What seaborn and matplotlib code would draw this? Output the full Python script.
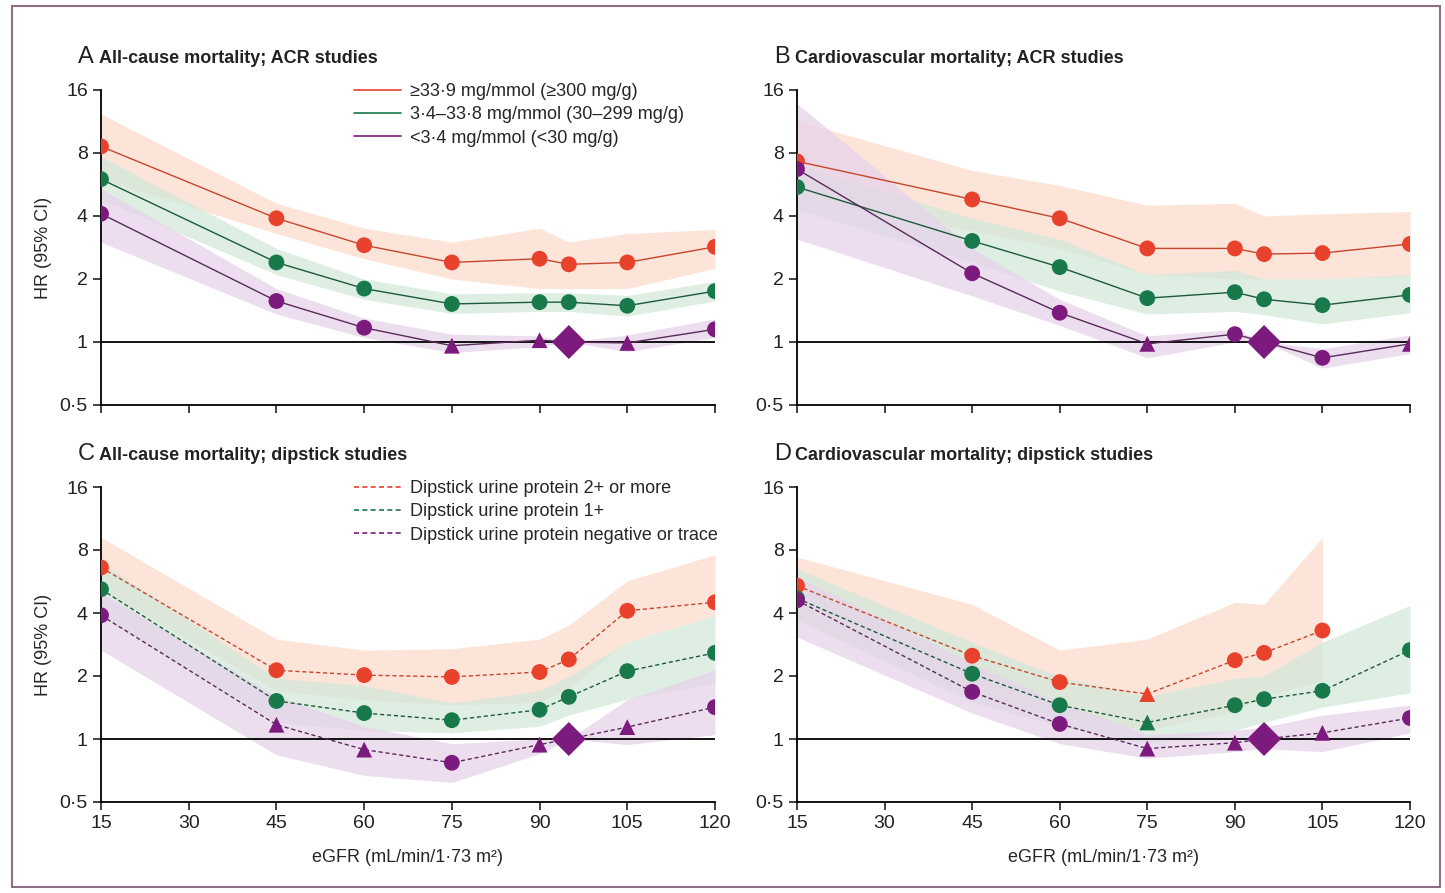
import numpy as np
import pandas as pd
import matplotlib
matplotlib.use("Agg")
import matplotlib.pyplot as plt
from matplotlib.lines import Line2D
from matplotlib.patches import Rectangle
import seaborn as sns

# eGFR categories (reference point is 95)
egfr = [15, 45, 60, 75, 90, 95, 105, 120]
ref_idx = 5

# panel A - all-cause mortality, ACR studies
a_high = [8.6, 3.9, 2.9, 2.4, 2.5, 2.35, 2.4, 2.85]
a_high_lo = [6.0, 3.3, 2.5, 2.0, 1.8, 1.8, 1.8, 2.25]
a_high_hi = [12.3, 4.6, 3.5, 3.0, 3.5, 3.0, 3.3, 3.45]
a_mid = [6.0, 2.4, 1.8, 1.52, 1.55, 1.55, 1.49, 1.75]
a_mid_lo = [4.8, 2.1, 1.6, 1.37, 1.4, 1.4, 1.33, 1.57]
a_mid_hi = [7.7, 2.8, 2.0, 1.7, 1.72, 1.72, 1.67, 1.95]
a_low = [4.1, 1.57, 1.17, 0.96, 1.02, 1.0, 0.99, 1.15]
a_low_lo = [3.0, 1.36, 1.05, 0.89, 0.95, 1.0, 0.9, 1.05]
a_low_hi = [5.4, 1.8, 1.3, 1.09, 1.07, 1.0, 1.08, 1.29]
a_ns = {"high": [], "mid": [], "low": [3, 4, 6]}

# panel B - cardiovascular mortality, ACR studies
b_high = [7.3, 4.8, 3.9, 2.8, 2.8, 2.63, 2.66, 2.94]
b_high_lo = [5.0, 3.4, 2.8, 2.1, 2.0, 2.0, 2.0, 2.07]
b_high_hi = [11.4, 6.6, 5.6, 4.5, 4.6, 4.0, 4.1, 4.2]
b_mid = [5.5, 3.04, 2.28, 1.62, 1.73, 1.6, 1.5, 1.68]
b_mid_lo = [4.3, 2.4, 1.75, 1.36, 1.4, 1.35, 1.22, 1.38]
b_mid_hi = [7.0, 3.9, 3.1, 2.1, 2.2, 2.0, 2.0, 2.1]
b_low = [6.7, 2.13, 1.38, 0.98, 1.09, 1.0, 0.84, 0.98]
b_low_lo = [3.1, 1.66, 1.2, 0.84, 1.0, 1.0, 0.75, 0.88]
b_low_hi = [13.8, 2.8, 1.6, 1.07, 1.15, 1.0, 0.93, 1.08]
b_ns = {"high": [], "mid": [], "low": [3, 7]}

# panel C - all-cause mortality, dipstick studies
c_high = [6.6, 2.13, 2.02, 1.98, 2.09, 2.4, 4.1, 4.5]
c_high_lo = [5.2, 1.7, 1.54, 1.45, 1.5, 1.75, 2.9, 3.9]
c_high_hi = [9.2, 3.0, 2.66, 2.7, 3.0, 3.5, 5.7, 7.6]
c_mid = [5.2, 1.52, 1.33, 1.23, 1.38, 1.59, 2.11, 2.58]
c_mid_lo = [3.9, 1.2, 1.1, 1.07, 1.15, 1.3, 1.55, 1.85]
c_mid_hi = [7.0, 1.95, 1.8, 1.49, 1.7, 2.0, 2.9, 3.9]
c_low = [3.9, 1.17, 0.89, 0.77, 0.94, 1.0, 1.14, 1.42]
c_low_lo = [2.66, 0.84, 0.67, 0.62, 0.85, 1.0, 0.94, 1.05]
c_low_hi = [5.0, 1.6, 1.15, 0.95, 1.0, 1.0, 1.54, 2.14]
c_ns = {"high": [], "mid": [], "low": [1, 2, 4, 6]}

# panel D - cardiovascular mortality, dipstick studies (no 2+ estimate at 120)
d_high = [5.4, 2.5, 1.87, 1.64, 2.38, 2.58, 3.3, np.nan]
d_high_lo = [3.8, 1.6, 1.3, 1.1, 1.35, 1.6, 1.9, np.nan]
d_high_hi = [7.4, 4.4, 2.66, 3.0, 4.5, 4.4, 9.2, np.nan]
d_mid = [4.7, 2.05, 1.45, 1.2, 1.45, 1.55, 1.7, 2.66]
d_mid_lo = [3.7, 1.5, 1.15, 0.95, 1.1, 1.2, 1.42, 1.66]
d_mid_hi = [6.5, 2.9, 1.98, 1.6, 1.95, 2.0, 2.9, 4.35]
d_low = [4.6, 1.68, 1.18, 0.9, 0.96, 1.0, 1.07, 1.26]
d_low_lo = [3.07, 1.33, 0.95, 0.81, 0.87, 0.9, 0.87, 1.07]
d_low_hi = [6.0, 2.3, 1.5, 1.05, 1.1, 1.14, 1.3, 1.45]
d_ns = {"high": [3], "mid": [3], "low": [3, 4, 6]}

acr_labels = ["\u226533\u00b79 mg/mmol (\u2265300 mg/g)",
              "3\u00b74\u201333\u00b78 mg/mmol (30\u2013299 mg/g)",
              "<3\u00b74 mg/mmol (<30 mg/g)"]
dip_labels = ["Dipstick urine protein 2+ or more",
              "Dipstick urine protein 1+",
              "Dipstick urine protein negative or trace"]

panel_titles = [("A", "All-cause mortality; ACR studies"),
                ("B", "Cardiovascular mortality; ACR studies"),
                ("C", "All-cause mortality; dipstick studies"),
                ("D", "Cardiovascular mortality; dipstick studies")]

yticks = [0.5, 1, 2, 4, 8, 16]
ytick_labels = ["0\u00b75", "1", "2", "4", "8", "16"]
xticks = [15, 30, 45, 60, 75, 90, 105, 120]

sns.set_style("ticks")
plt.rcParams["font.family"] = ["Liberation Sans", "DejaVu Sans"]

colors = {"high": "#e8412c", "mid": "#18794a", "low": "#7d1a7d"}
line_colors = {"high": "#c8452f", "mid": "#1d5a3a", "low": "#5a2a5a"}
band_colors = {"high": "#fcdccb", "mid": "#d3e9da", "low": "#e6d3ea"}

panels = [
    dict(high=(a_high, a_high_lo, a_high_hi), mid=(a_mid, a_mid_lo, a_mid_hi),
         low=(a_low, a_low_lo, a_low_hi), ns=a_ns, dashed=False),
    dict(high=(b_high, b_high_lo, b_high_hi), mid=(b_mid, b_mid_lo, b_mid_hi),
         low=(b_low, b_low_lo, b_low_hi), ns=b_ns, dashed=False),
    dict(high=(c_high, c_high_lo, c_high_hi), mid=(c_mid, c_mid_lo, c_mid_hi),
         low=(c_low, c_low_lo, c_low_hi), ns=c_ns, dashed=True),
    dict(high=(d_high, d_high_lo, d_high_hi), mid=(d_mid, d_mid_lo, d_mid_hi),
         low=(d_low, d_low_lo, d_low_hi), ns=d_ns, dashed=True),
]

W, H = 1445, 893
fig = plt.figure(figsize=(W / 100, H / 100), dpi=100)

# axes boxes in pixels: left, right, top(y=16), bottom(y=0.5)
boxes = [(101, 715, 90, 405), (797, 1410, 90, 405),
         (101, 715, 487, 802), (797, 1410, 487, 802)]

for i, (pan, box) in enumerate(zip(panels, boxes)):
    l, r, t, b = box
    ax = fig.add_axes([l / W, 1 - b / H, (r - l) / W, (b - t) / H])
    ax.set_yscale("log", base=2)

    # confidence bands
    for key in ["high", "mid", "low"]:
        est, lo, hi = pan[key]
        ax.fill_between(egfr, lo, hi, color=band_colors[key], alpha=0.75,
                        linewidth=0, zorder=1)

    ax.axhline(1, color="black", lw=1.3, zorder=2)

    ls = (0, (3, 2)) if pan["dashed"] else "-"
    for key in ["high", "mid", "low"]:
        est = pan[key][0]
        df = pd.DataFrame({"egfr": egfr, "hr": est}).dropna()
        sns.lineplot(data=df, x="egfr", y="hr", ax=ax, color=line_colors[key],
                     lw=1.0, linestyle=ls, sort=False, estimator=None, zorder=3)
        df["idx"] = df.index
        ns = pan["ns"][key]
        sig = df[~df["idx"].isin(ns)]
        if key == "low":
            sig = sig[sig["idx"] != ref_idx]
        sns.scatterplot(data=sig, x="egfr", y="hr", ax=ax, color=colors[key],
                        marker="o", s=130, edgecolor="none", zorder=4)
        nsd = df[df["idx"].isin(ns)]
        if len(nsd):
            sns.scatterplot(data=nsd, x="egfr", y="hr", ax=ax, color=colors[key],
                            marker="^", s=130, edgecolor="none", zorder=4)
        if key == "low":
            sns.scatterplot(data=df[df["idx"] == ref_idx], x="egfr", y="hr", ax=ax,
                            color=colors[key], marker="D", s=300, edgecolor="none",
                            zorder=5)

    ax.set_xlim(15, 120)
    ax.set_ylim(0.5, 16)
    ax.set_yticks(yticks)
    ax.set_yticklabels(ytick_labels)
    ax.minorticks_off()
    ax.set_xticks(xticks)
    ax.tick_params(axis="both", length=6, width=1.2, labelsize=14, colors="#222222")
    for s in ["left", "bottom"]:
        ax.spines[s].set_linewidth(1.3)
        ax.spines[s].set_color("black")
    sns.despine(ax=ax)
    ax.set_xlabel("")
    ax.set_ylabel("")
    if i < 2:
        ax.set_xticklabels([])
    else:
        ax.set_xlabel("eGFR (mL/min/1\u00b773 m\u00b2)", fontsize=13)
        ax.xaxis.set_label_coords(0.5, -0.15)
    if i % 2 == 0:
        ax.set_ylabel("HR (95% CI)", fontsize=13)
        ax.yaxis.set_label_coords(-0.08, 0.5)

    letter, title = panel_titles[i]
    ax.text(-0.038, 1.105, letter, transform=ax.transAxes, fontsize=17,
            ha="left", va="center", color="#222222")
    ax.text(-0.004, 1.1, title, transform=ax.transAxes, fontsize=13,
            fontweight="bold", ha="left", va="center", color="#222222")

    if i in (0, 2):
        labels = acr_labels if i == 0 else dip_labels
        handles = [Line2D([0], [0], color=colors[k], lw=1.2, linestyle=ls)
                   for k in ["high", "mid", "low"]]
        ax.legend(handles, labels, loc="upper left", bbox_to_anchor=(0.4, 1.045),
                  frameon=False, fontsize=13, handlelength=2.6, handletextpad=0.5,
                  labelspacing=0.35, borderaxespad=0)

fig.patches.append(Rectangle((12 / W, 1 - 887 / H), (1440 - 12) / W, (887 - 6) / H,
                             transform=fig.transFigure, fill=False,
                             edgecolor="#8c6f80", lw=1.5))

fig.savefig("out.png", dpi=100)
